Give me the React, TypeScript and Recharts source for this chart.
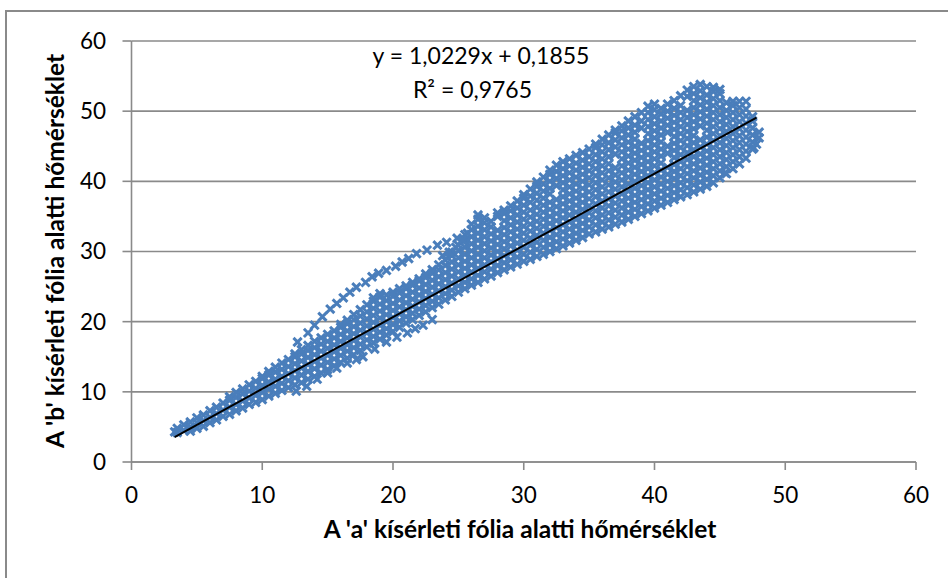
import React from "react";
import { ScatterChart, Scatter, XAxis, YAxis, CartesianGrid } from "recharts";

// axis ticks
const xTicks = [0, 10, 20, 30, 40, 50, 60];
const yTicks = [0, 10, 20, 30, 40, 50, 60];

// main cloud, read column by column ('a' temperature -> 'b' temperatures)
const colX = [
  3.3, 3.5, 4, 4.5, 5, 5.5, 6, 6.5, 7, 7.5, 8, 8.5, 9, 9.5, 10, 10.5, 11, 11.5, 12, 12.5,
  13, 13.5, 14, 14.5, 15, 15.5, 16, 16.5, 17, 17.5, 18, 18.5, 19, 19.5, 20, 20.5, 21, 21.5,
  22, 22.5, 23, 23.5, 24, 24.5, 25, 25.5, 26, 26.5, 27, 27.5, 28, 28.5, 29, 29.5, 30, 30.5,
  31, 31.5, 32, 32.5, 33, 33.5, 34, 34.5, 35, 35.5, 36, 36.5, 37, 37.5, 38, 38.5, 39, 39.5,
  40, 40.5, 41, 41.5, 42, 42.5, 43, 43.5, 44, 44.5, 45, 45.5, 46, 46.5, 47, 47.5, 48,
];
const colY = [
  [4.3],
  [4.2, 4.8],
  [4.5, 5.3],
  [4.4, 5.0, 5.7],
  [4.8, 5.6, 6.3],
  [5.1, 5.9, 6.7],
  [5.6, 6.4, 7.3],
  [6.0, 6.9, 7.8],
  [6.5, 7.4, 8.4],
  [6.8, 7.8, 8.8, 9.3],
  [7.3, 8.2, 9.2, 9.9],
  [7.7, 8.7, 9.7, 10.4],
  [8.2, 9.1, 10.1, 11.0],
  [8.5, 9.5, 10.5, 11.5],
  [8.9, 9.9, 10.9, 11.9, 12.2],
  [9.4, 10.4, 11.4, 12.4, 12.9],
  [9.8, 10.8, 11.8, 12.8, 13.5],
  [10.2, 11.2, 12.2, 13.2, 14.1],
  [10.6, 11.6, 12.6, 13.6, 14.6],
  [11.0, 12.0, 13.0, 14.0, 15.0, 15.4],
  [11.3, 12.4, 13.4, 14.4, 15.4, 16.0],
  [11.8, 12.9, 13.9, 14.9, 15.9, 16.6],
  [12.2, 13.3, 14.3, 15.3, 16.3, 17.2],
  [12.7, 13.8, 14.8, 15.8, 16.8, 17.7],
  [13.2, 14.2, 15.2, 16.2, 17.2, 18.2],
  [13.7, 14.7, 15.7, 16.7, 17.7, 18.7],
  [14.2, 15.2, 16.2, 17.2, 18.2, 19.2, 19.6],
  [14.8, 15.8, 16.7, 17.7, 18.7, 19.7, 20.2],
  [15.3, 16.3, 17.3, 18.3, 19.3, 20.3, 21.0],
  [15.9, 16.8, 17.8, 18.8, 19.8, 20.8, 21.7],
  [16.4, 17.4, 18.4, 19.4, 20.4, 21.4, 22.4],
  [17.0, 17.9, 18.9, 19.9, 20.9, 21.9, 22.9, 23.4],
  [17.5, 18.5, 19.5, 20.5, 21.5, 22.5, 23.5, 24.0],
  [18.1, 19.0, 20.0, 21.0, 22.0, 23.0, 23.8],
  [18.6, 19.6, 20.6, 21.6, 22.6, 23.6, 24.2],
  [19.2, 20.1, 21.1, 22.1, 23.1, 24.1, 24.7],
  [19.8, 20.7, 21.7, 22.7, 23.7, 24.7, 25.1],
  [20.3, 21.2, 22.2, 23.2, 24.2, 25.2, 25.6],
  [20.9, 21.8, 22.8, 23.8, 24.8, 25.8, 26.1],
  [21.4, 22.3, 23.3, 24.3, 25.3, 26.3, 26.8],
  [22.0, 22.9, 23.9, 24.9, 25.9, 26.9, 27.4],
  [22.5, 23.4, 24.4, 25.4, 26.4, 27.4, 28.1],
  [23.1, 24.0, 25.0, 26.0, 27.0, 28.0, 28.8],
  [23.6, 24.5, 25.5, 26.5, 27.5, 28.5, 29.4, 29.9],
  [24.2, 25.1, 26.1, 27.1, 28.1, 29.1, 30.1, 30.9],
  [24.7, 25.6, 26.6, 27.6, 28.6, 29.6, 30.6, 31.6, 32.4],
  [25.2, 26.1, 27.1, 28.1, 29.1, 30.1, 31.1, 32.1, 33.1, 33.9],
  [25.6, 26.6, 27.6, 28.6, 29.6, 30.6, 31.6, 32.6, 33.6, 34.6, 35.2],
  [26.1, 27.1, 28.1, 29.1, 30.1, 31.1, 32.1, 33.1, 34.1, 34.8],
  [26.5, 27.5, 28.5, 29.5, 30.5, 31.5, 32.5, 33.5, 34.3],
  [27.0, 28.0, 29.0, 30.0, 31.0, 32.0, 33.0, 35.0, 35.5],
  [27.4, 28.4, 29.4, 30.4, 31.4, 32.4, 33.4, 34.4, 35.4, 35.9],
  [27.8, 28.8, 29.8, 30.8, 31.8, 32.8, 33.8, 34.8, 35.8, 36.5],
  [28.2, 29.2, 30.2, 31.2, 32.2, 33.2, 34.2, 35.2, 36.2, 37.2],
  [28.6, 29.6, 30.6, 31.6, 32.6, 33.6, 34.6, 35.6, 36.6, 37.6, 38.1],
  [28.9, 29.9, 30.9, 31.9, 32.9, 33.9, 34.9, 35.9, 37.0, 37.9, 38.9],
  [29.3, 30.3, 31.3, 32.3, 33.3, 34.3, 35.3, 36.3, 37.3, 38.3, 39.3, 39.9],
  [29.6, 30.6, 31.6, 32.6, 33.6, 34.6, 35.6, 36.6, 37.6, 38.6, 39.6, 40.6],
  [30.0, 31.0, 32.0, 33.0, 34.0, 35.0, 36.0, 37.0, 38.2, 39.0, 40.0, 41.0, 41.6],
  [30.4, 31.4, 32.4, 33.4, 34.4, 35.4, 36.4, 37.4, 39.4, 40.4, 41.4, 42.3],
  [30.8, 31.8, 32.8, 33.8, 34.8, 35.8, 36.8, 37.8, 38.8, 39.8, 40.8, 41.8, 42.8],
  [31.2, 32.2, 33.2, 34.2, 35.2, 36.2, 37.2, 38.2, 39.2, 40.2, 41.2, 42.2, 43.2],
  [31.6, 32.6, 33.6, 34.6, 35.6, 36.6, 37.6, 38.6, 39.6, 40.6, 41.6, 42.6, 43.7],
  [32.0, 33.0, 34.0, 35.0, 36.0, 37.0, 38.0, 39.0, 40.0, 41.0, 42.0, 43.0, 44.1],
  [32.5, 33.5, 34.5, 35.5, 36.5, 37.5, 38.5, 39.5, 40.5, 41.5, 42.5, 43.5, 44.6],
  [32.8, 33.8, 34.8, 35.8, 36.8, 37.8, 38.8, 39.8, 40.8, 41.8, 42.8, 43.8, 44.8, 45.3],
  [33.2, 34.2, 35.2, 36.2, 37.2, 38.2, 39.2, 40.2, 41.2, 42.2, 43.2, 44.2, 45.2, 46.0],
  [33.5, 34.5, 35.5, 36.5, 37.5, 38.5, 39.5, 40.5, 41.5, 42.5, 43.5, 44.5, 45.5, 46.6],
  [33.9, 34.9, 35.9, 36.9, 37.9, 38.9, 39.9, 40.9, 41.9, 43.9, 44.9, 45.9, 46.9, 47.3],
  [34.2, 35.2, 36.2, 37.2, 38.2, 39.2, 40.2, 41.2, 42.2, 43.2, 44.2, 45.2, 46.2, 47.2, 47.9],
  [34.6, 35.6, 36.6, 37.6, 38.6, 39.6, 40.6, 41.6, 42.6, 43.6, 44.6, 45.6, 46.6, 47.6, 48.6],
  [35.0, 36.0, 37.0, 38.0, 39.0, 40.0, 41.0, 42.0, 43.0, 44.0, 45.0, 46.0, 47.0, 48.0, 49.2],
  [35.4, 36.4, 37.4, 38.4, 39.4, 40.4, 41.4, 42.4, 43.4, 44.4, 45.4, 47.6, 48.6, 49.8],
  [35.8, 36.8, 37.8, 38.8, 39.8, 40.8, 41.8, 42.8, 43.8, 44.8, 45.8, 46.8, 47.8, 48.8, 49.8, 50.7],
  [36.2, 37.2, 38.2, 39.2, 40.2, 41.2, 42.2, 43.2, 44.2, 45.2, 46.2, 47.2, 48.2, 49.2, 50.2, 51.0],
  [36.6, 37.6, 38.6, 39.6, 40.6, 41.6, 42.6, 43.6, 44.6, 45.6, 46.6, 47.6, 48.6, 49.6, 50.4],
  [37.0, 38.0, 39.0, 40.0, 41.0, 42.0, 44.0, 45.0, 47.0, 48.0, 49.0, 50.0, 51.0],
  [37.4, 38.4, 39.4, 40.4, 41.4, 42.4, 43.4, 44.4, 45.4, 46.4, 47.4, 48.4, 49.4, 50.4, 51.5],
  [37.8, 38.8, 39.8, 40.8, 41.8, 42.8, 43.8, 44.8, 45.8, 46.8, 47.8, 48.8, 49.8, 50.8, 52.2],
  [38.1, 39.1, 40.1, 41.1, 42.1, 43.1, 44.1, 45.1, 46.1, 47.1, 48.1, 49.1, 50.1, 52.1, 53.0],
  [38.5, 39.5, 40.5, 41.5, 42.5, 43.5, 44.5, 45.5, 46.5, 47.5, 48.5, 49.5, 50.5, 51.5, 52.5, 53.5],
  [38.9, 39.9, 40.9, 41.9, 42.9, 43.9, 44.9, 45.9, 47.9, 48.9, 49.9, 50.9, 51.9, 52.9, 53.8],
  [39.3, 40.3, 41.3, 42.3, 43.3, 44.3, 45.3, 46.3, 47.3, 48.3, 49.3, 50.3, 51.3, 52.3, 53.5],
  [39.8, 40.8, 41.8, 42.8, 43.8, 44.8, 45.8, 46.8, 47.8, 48.8, 49.8, 50.8, 51.8, 52.8, 53.4],
  [40.5, 41.5, 42.5, 43.5, 44.5, 45.5, 46.5, 47.5, 48.5, 49.5, 50.5, 51.5, 52.5, 53.1],
  [41.1, 42.1, 43.1, 44.1, 45.1, 46.1, 47.1, 48.1, 49.1, 50.1, 51.2],
  [41.8, 42.8, 43.8, 44.8, 45.8, 46.8, 47.8, 48.8, 49.8, 50.8, 51.4],
  [42.5, 43.5, 44.5, 45.5, 46.5, 47.5, 48.5, 49.5, 50.5, 51.4],
  [43.3, 44.3, 45.3, 46.3, 47.3, 48.3, 49.3, 50.3, 51.4],
  [44.6, 45.6, 46.6, 47.6, 48.6, 49.2],
  [46.2, 47.0],
];

// strand of readings above the main band
const upperX = [12.7, 13.5, 14.0, 14.6, 15.2, 15.7, 16.2, 16.7, 17.2, 17.9, 18.4, 18.9, 19.5, 20.2, 20.7, 21.2, 21.8, 22.6, 23.4, 24.1, 24.9, 25.7, 23.8, 24.3, 24.8, 25.3];
const upperY = [17.1, 18.4, 19.5, 20.7, 21.8, 22.6, 23.4, 24.2, 24.9, 25.6, 26.4, 26.9, 27.3, 27.9, 28.5, 29.0, 29.7, 30.2, 30.9, 31.3, 31.9, 32.6, 29.4, 29.9, 30.6, 31.6];

// strand of readings below the main band
const lowerX = [12.6, 13.4, 14.2, 15.0, 15.7, 16.5, 17.2, 17.7, 18.6, 19.5, 20.3, 21.1, 21.7, 22.3, 23.0, 45.4, 47.6, 47.8];
const lowerY = [10.1, 10.8, 11.8, 12.7, 13.4, 14.1, 14.6, 15.0, 16.1, 17.1, 17.8, 18.4, 19.0, 19.5, 20.3, 41.2, 44.8, 45.3];

// linear trendline (from the chart's own equation)
const trendSlope = 1.0229;
const trendIntercept = 0.1855;
const trendRange = [3.3, 47.8];

const points = [
  ...colX.flatMap((x, i) => colY[i].map((y) => ({ x, y }))),
  ...upperX.map((x, i) => ({ x, y: upperY[i] })),
  ...lowerX.map((x, i) => ({ x, y: lowerY[i] })),
];
const trend = trendRange.map((x) => ({ x, y: trendSlope * x + trendIntercept }));

const FONT = "Lato, 'Liberation Sans', sans-serif";
const GRID = "#8a8a8a";
const BLUE = "#4A7EBB";

const Cross = (props: any) => {
  const { cx, cy } = props;
  const r = 4.1;
  return (
    <path
      d={`M${cx - r},${cy - r}L${cx + r},${cy + r}M${cx + r},${cy - r}L${cx - r},${cy + r}`}
      stroke={BLUE}
      strokeWidth={3}
      fill="none"
    />
  );
};

const NoDot = () => <g />;

export default function App() {
  const tick = { fill: "#000", fontSize: 22.5, fontFamily: FONT };
  return (
    <div style={{ position: "absolute", left: 0, top: 0, width: 948, height: 578, overflow: "hidden", background: "#fff" }}>
      <div
        style={{
          position: "absolute",
          left: 5,
          top: 10,
          width: 943,
          height: 568,
          borderLeft: `2px solid ${GRID}`,
          borderTop: `2px solid ${GRID}`,
          boxSizing: "border-box",
        }}
      />
      <div style={{ position: "absolute", left: 0, top: 0 }}>
        <ScatterChart width={948} height={578} margin={{ top: 41, right: 32, bottom: 76, left: 0 }}>
          <CartesianGrid horizontal vertical={false} stroke={GRID} strokeWidth={1.6} />
          <XAxis
            type="number"
            dataKey="x"
            domain={[0, 60]}
            ticks={xTicks}
            height={40}
            tickSize={8}
            tickMargin={17}
            tick={tick}
            stroke={GRID}
            strokeWidth={1.6}
          />
          <YAxis
            type="number"
            dataKey="y"
            domain={[0, 60]}
            ticks={yTicks}
            width={131.5}
            tickSize={9}
            tickMargin={16.5}
            tick={tick}
            stroke={GRID}
            strokeWidth={1.6}
          />
          <Scatter data={points} shape={Cross} isAnimationActive={false} />
          <Scatter
            data={trend}
            shape={NoDot}
            line={{ stroke: "#000", strokeWidth: 2 }}
            isAnimationActive={false}
          />
        </ScatterChart>
      </div>
      <svg width={948} height={578} style={{ position: "absolute", left: 0, top: 0, pointerEvents: "none" }}>
        <g fontFamily={FONT} fill="#000">
          <text x={481} y={64} fontSize={23} textAnchor="middle">
            y = 1,0229x + 0,1855
          </text>
          <text x={472.5} y={98} fontSize={23} textAnchor="middle">
            R² = 0,9765
          </text>
          <text x={520} y={538} fontSize={24.5} fontWeight="bold" textAnchor="middle">
            A 'a' kísérleti fólia alatti hőmérséklet
          </text>
          <text
            x={64}
            y={251}
            fontSize={24.5}
            fontWeight="bold"
            textAnchor="middle"
            transform="rotate(-90 64 251)"
          >
            A 'b' kísérleti fólia alatti hőmérséklet
          </text>
        </g>
      </svg>
    </div>
  );
}
